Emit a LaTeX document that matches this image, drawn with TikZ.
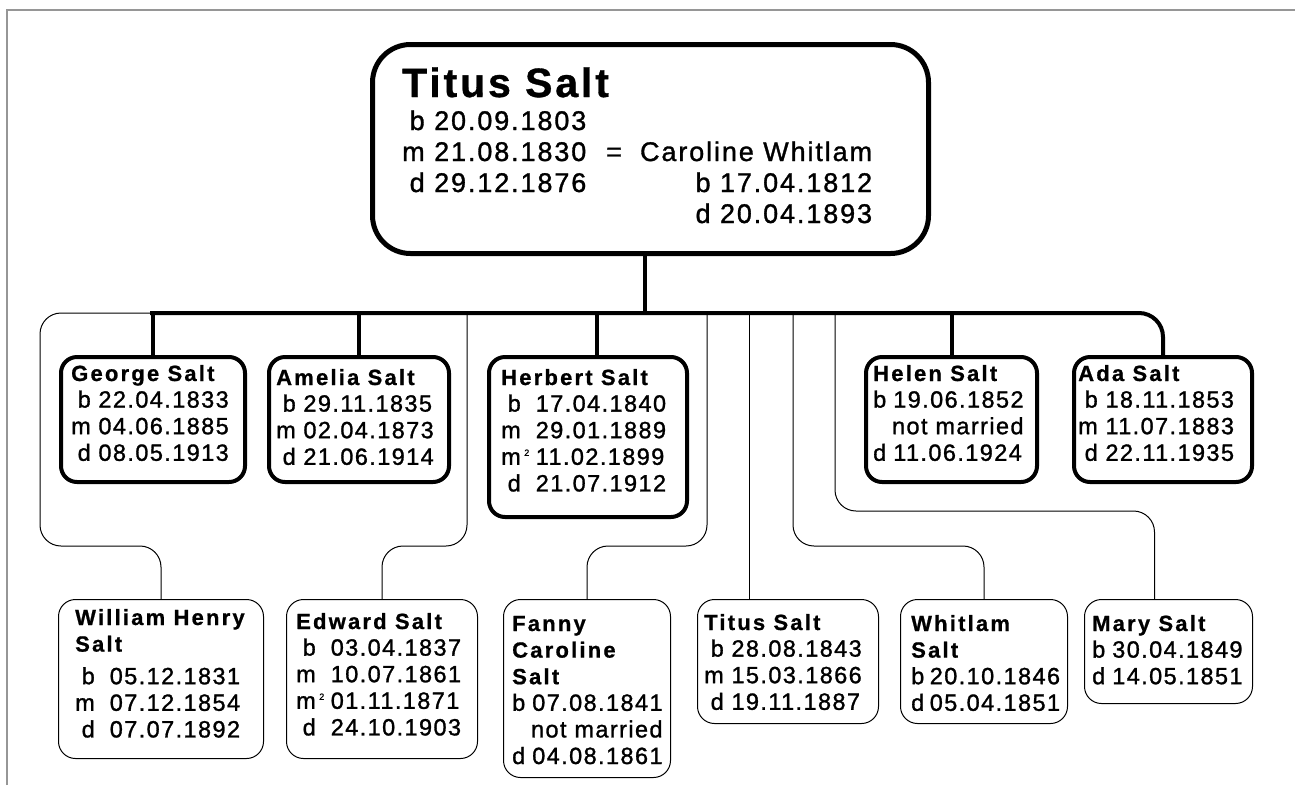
\documentclass[tikz,border=0pt]{standalone}
\usepackage{fontspec}
\setmainfont{Liberation Sans}
\newfontfamily\datefont{Liberation Sans}[LetterSpace=6, FakeBold=1.2]
\newfontfamily\namefont{Liberation Sans}[LetterSpace=10, FakeBold=0.8]
\newfontfamily\headdatefont{Liberation Sans}[LetterSpace=7, FakeBold=1.2]
\newfontfamily\headnamefont{Liberation Sans}[LetterSpace=7, FakeBold=0.8]
\newcommand{\kidname}[1]{{\namefont\bfseries\fontsize{22}{26.6}\selectfont #1}}
\newcommand{\secondm}{m\rlap{\hspace{3.5pt}\raisebox{9pt}{\fontsize{9}{9}\selectfont 2}}}

\tikzset{
  frame/.style={draw={rgb,255:red,150;green,150;blue,150}, line width=1.5pt},
  headbox/.style={draw, line width=5pt, rounded corners=38pt, fill=white,
    anchor=north west, inner sep=0pt},
  kidbox/.style={draw, line width=4pt, rounded corners=16pt, fill=white,
    anchor=north west, inner sep=0pt},
  grandbox/.style={draw, line width=1pt, rounded corners=17pt, fill=white,
    anchor=north west, inner sep=0pt},
  bus/.style={line width=4pt},
  link/.style={line width=1pt, rounded corners=21pt},
  txt/.style={anchor=base west, inner sep=0pt,
    font=\datefont\fontsize{23.5}{26.6}\selectfont},
  headtxt/.style={anchor=base west, inner sep=0pt,
    font=\headdatefont\fontsize{27}{31}\selectfont},
}

\begin{document}
\begin{tikzpicture}[x=1pt, y=-1pt]
\useasboundingbox (0,0) rectangle (1295,785);

% page frame
\coordinate (fTL) at (7,10);
\coordinate (fTR) at (1295,10);
\coordinate (fBL) at (7,785);
\draw[frame] (fBL) -- (fTL) -- (fTR);

% boxes
\node[headbox, minimum width=556pt, minimum height=209pt] (titus) at (370,42) {};
\node[kidbox, minimum width=184pt, minimum height=125pt] (george) at (59,355) {};
\node[kidbox, minimum width=180pt, minimum height=125pt] (amelia) at (267,355) {};
\node[kidbox, minimum width=198pt, minimum height=160pt] (herbert) at (487,355) {};
\node[kidbox, minimum width=171pt, minimum height=125pt] (helen) at (864,355) {};
\node[kidbox, minimum width=178pt, minimum height=125pt] (ada) at (1072,355) {};
\node[grandbox, minimum width=205pt, minimum height=159pt] (william) at (58,599) {};
\node[grandbox, minimum width=191pt, minimum height=159pt] (edward) at (286,599) {};
\node[grandbox, minimum width=167pt, minimum height=178pt] (fanny) at (503,599) {};
\node[grandbox, minimum width=181pt, minimum height=124pt] (titusjr) at (697,599) {};
\node[grandbox, minimum width=167pt, minimum height=124pt] (whitlam) at (900,599) {};
\node[grandbox, minimum width=168pt, minimum height=104pt] (mary) at (1084,599) {};

% taps on the family bar
\coordinate (busL) at (150,313);
\coordinate (mainTap) at (645,313);
\coordinate (herbTap) at (597,313);
\coordinate (edTap) at (467,313);
\coordinate (fanTap) at (707,313);
\coordinate (titTap) at (749,313);
\coordinate (whiTap) at (793,313);
\coordinate (marTap) at (835,313);

% thin connectors
\draw[link] (busL) -- (40,313) -- (40,546) -| (william.north);
\draw[link] (edTap) -- (edTap |- 0,546) -| (edward.north);
\draw[link] (fanTap) -- (fanTap |- 0,546) -| (fanny.north);
\draw[line width=1pt] (titTap) -- (titTap |- titusjr.north);
\draw[link] (whiTap) -- (whiTap |- 0,546) -| (whitlam.north);
\draw[link] (marTap) -- (marTap |- 0,511) -| ([xshift=-14pt]mary.north);

% family bar and drops
\draw[bus] (mainTap |- titus.south) -- (mainTap);
\draw[bus, rounded corners=24pt] (busL) -| (ada.north);
\draw[bus] (george.north) -- (george.north |- busL);
\draw[bus] (amelia.north) -- (amelia.north |- busL);
\draw[bus] (herbTap |- herbert.north) -- (herbTap);
\draw[bus] (helen.north) -- (helen.north |- busL);

% texts
\node[headtxt] (titustxt) at (402,97) {\begin{tabular}[t]{@{}r@{\hspace{9.5pt}}l@{\hspace{20pt}}c@{\hspace{18pt}}r@{}}
\multicolumn{4}{@{}l@{}}{\headnamefont\bfseries\fontsize{41}{41}\selectfont Titus Salt}\\[2pt]
b & 20.09.1803 & & \\
m & 21.08.1830 & = & Caroline Whitlam\\
d & 29.12.1876 & & b 17.04.1812\\
  &            & & d 20.04.1893
\end{tabular}};

\node[txt] (georgetxt) at (71,381) {\begin{tabular}[t]{@{}r@{\hspace{7.7pt}}l@{}}
\multicolumn{2}{@{}l@{}}{\kidname{George Salt}}\\
b & 22.04.1833\\ m & 04.06.1885\\ d & 08.05.1913
\end{tabular}};

\node[txt] (ameliatxt) at (276,385) {\begin{tabular}[t]{@{}r@{\hspace{7.7pt}}l@{}}
\multicolumn{2}{@{}l@{}}{\kidname{Amelia Salt}}\\
b & 29.11.1835\\ m & 02.04.1873\\ d & 21.06.1914
\end{tabular}};

\node[txt] (herberttxt) at (501,385) {\begin{tabular}[t]{@{}r@{\hspace{15pt}}l@{}}
\multicolumn{2}{@{}l@{}}{\kidname{Herbert Salt}}\\
b & 17.04.1840\\ m & 29.01.1889\\ \secondm & 11.02.1899\\ d & 21.07.1912
\end{tabular}};

\node[txt] (helentxt) at (873,381) {\begin{tabular}[t]{@{}r@{\hspace{7pt}}l@{}}
\multicolumn{2}{@{}l@{}}{\kidname{Helen Salt}}\\
b & 19.06.1852\\ \multicolumn{2}{@{}r@{}}{not married}\\ d & 11.06.1924
\end{tabular}};

\node[txt] (adatxt) at (1078,381) {\begin{tabular}[t]{@{}r@{\hspace{7.7pt}}l@{}}
\multicolumn{2}{@{}l@{}}{\kidname{Ada Salt}}\\
b & 18.11.1853\\ m & 11.07.1883\\ d & 22.11.1935
\end{tabular}};

\node[txt] (williamtxt) at (75,625) {\begin{tabular}[t]{@{}r@{\hspace{15pt}}l@{}}
\multicolumn{2}{@{}l@{}}{\kidname{William Henry}}\\
\multicolumn{2}{@{}l@{}}{\kidname{Salt}}\\[6pt]
b & 05.12.1831\\ m & 07.12.1854\\ d & 07.07.1892
\end{tabular}};

\node[txt] (edwardtxt) at (296,629) {\begin{tabular}[t]{@{}r@{\hspace{15pt}}l@{}}
\multicolumn{2}{@{}l@{}}{\kidname{Edward Salt}}\\
b & 03.04.1837\\ m & 10.07.1861\\ \secondm & 01.11.1871\\ d & 24.10.1903
\end{tabular}};

\node[txt] (fannytxt) at (512,631) {\begin{tabular}[t]{@{}r@{\hspace{7pt}}l@{}}
\multicolumn{2}{@{}l@{}}{\kidname{Fanny}}\\
\multicolumn{2}{@{}l@{}}{\kidname{Caroline}}\\
\multicolumn{2}{@{}l@{}}{\kidname{Salt}}\\
b & 07.08.1841\\ \multicolumn{2}{@{}r@{}}{not married}\\ d & 04.08.1861
\end{tabular}};

\node[txt] (titusjrtxt) at (704,630) {\begin{tabular}[t]{@{}r@{\hspace{7.7pt}}l@{}}
\multicolumn{2}{@{}l@{}}{\kidname{Titus Salt}}\\
b & 28.08.1843\\ m & 15.03.1866\\ d & 19.11.1887
\end{tabular}};

\node[txt] (whitlamtxt) at (911,631) {\begin{tabular}[t]{@{}r@{\hspace{5.5pt}}l@{}}
\multicolumn{2}{@{}l@{}}{\kidname{Whitlam}}\\
\multicolumn{2}{@{}l@{}}{\kidname{Salt}}\\
b & 20.10.1846\\ d & 05.04.1851
\end{tabular}};

\node[txt] (marytxt) at (1092,631) {\begin{tabular}[t]{@{}r@{\hspace{7pt}}l@{}}
\multicolumn{2}{@{}l@{}}{\kidname{Mary Salt}}\\
b & 30.04.1849\\ d & 14.05.1851
\end{tabular}};
\end{tikzpicture}
\end{document}
